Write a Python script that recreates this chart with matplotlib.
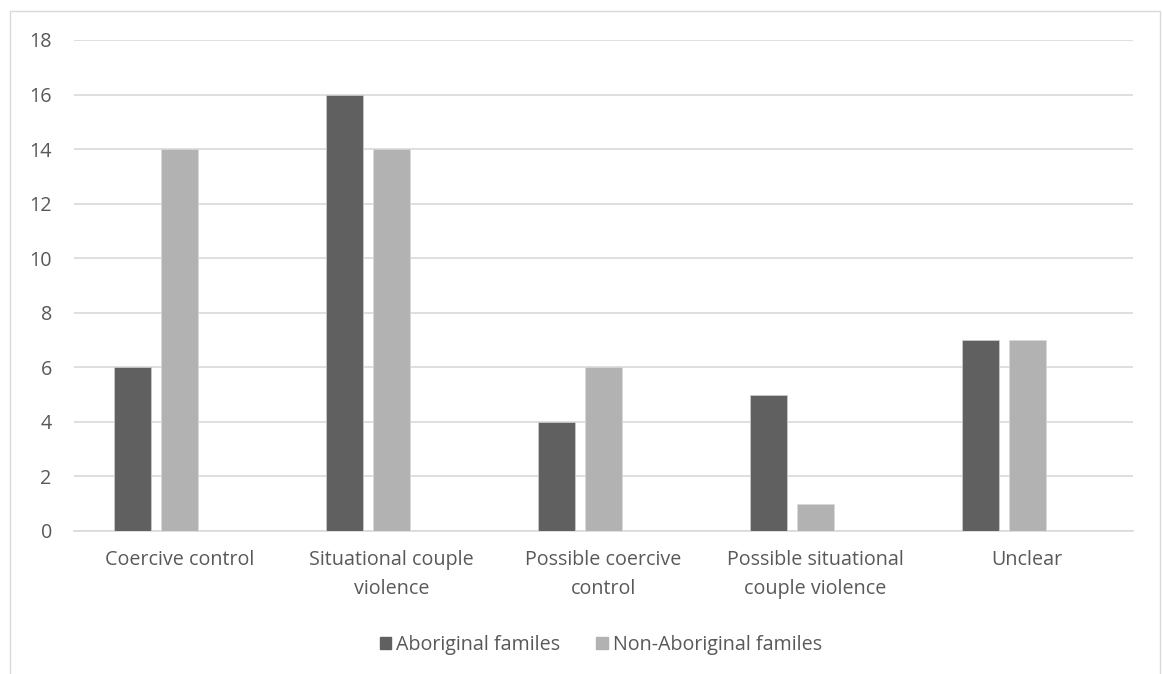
import matplotlib.pyplot as plt
import numpy as np
from matplotlib.patches import Rectangle, Patch

categories = ['Coercive control', 'Situational couple\nviolence', 'Possible coercive\ncontrol',
              'Possible situational\ncouple violence', 'Unclear']
aboriginal = [6, 16, 4, 5, 7]
non_aboriginal = [14, 14, 6, 1, 7]
series_names = ['Aboriginal familes', 'Non-Aboriginal familes']

plt.rcParams['font.family'] = ['Open Sans', 'DejaVu Sans']
text_col = '#595959'
fs = 14.2

fig = plt.figure(figsize=(11.62, 6.74), dpi=100)
ax = fig.add_axes([0.0637, 0.2122, 0.9113, 0.7285])

x = np.arange(len(categories))
w = 0.175
ax.bar(x - 0.222, aboriginal, w, color='#606060', edgecolor='#d0d0d0', linewidth=0.5, zorder=3)
ax.bar(x, non_aboriginal, w, color='#b2b2b2', edgecolor='#d8d8d8', linewidth=0.5, zorder=3)

ax.set_xlim(-0.5, len(categories) - 0.5)
ax.set_ylim(0, 18)
ax.set_yticks(range(0, 19, 2))
ax.grid(axis='y', color='#d9d9d9', linewidth=1.2, zorder=0)
for s in ['top', 'right', 'left']:
    ax.spines[s].set_visible(False)
ax.spines['bottom'].set_color('#d9d9d9')
ax.spines['bottom'].set_linewidth(1.2)
ax.set_xticks(x)
ax.set_xticklabels(categories, fontsize=fs, color=text_col, linespacing=1.6)
ax.tick_params(axis='x', length=0, pad=14)
ax.tick_params(axis='y', length=0, pad=16, labelsize=fs, labelcolor=text_col)

handles = [Patch(color='#606060'), Patch(color='#b2b2b2')]
fig.legend(handles, series_names, loc='center', bbox_to_anchor=(0.517, 0.043), ncol=2,
           frameon=False, fontsize=fs, labelcolor=text_col, handlelength=0.6,
           handleheight=0.6, handletextpad=0.25, columnspacing=1.8)

fig.patches.append(Rectangle((10 / 1162, -0.01), 1150 / 1162, 1 - 11 / 674 + 0.01,
                             transform=fig.transFigure, fill=False, edgecolor='#d9d9d9',
                             linewidth=1))

fig.savefig('out.png', dpi=100)
